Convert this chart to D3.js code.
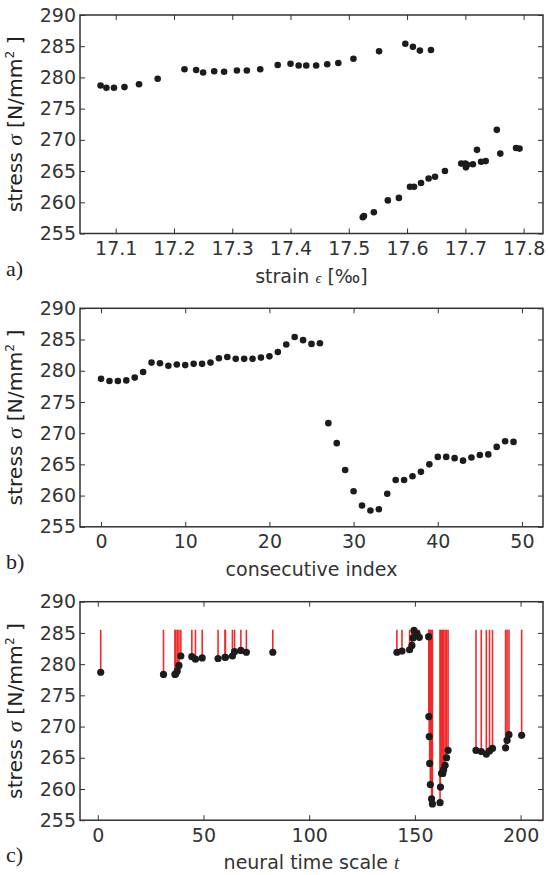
<!DOCTYPE html>
<html>
<head>
<meta charset="utf-8">
<script src="https://cdn.jsdelivr.net/npm/d3@7"></script>
<style>
body { margin: 0; background: #fff; }
svg { display: block; }
.tick text { font-family: "DejaVu Sans", sans-serif; fill: #333; }
.tick line { stroke: #333; }
</style>
</head>
<body>
<script>
// stress values, in measurement order (index 0..49)
var stress = [278.7, 278.35, 278.35, 278.45, 278.9, 279.8, 281.3, 281.2, 280.8, 281.0,
  280.9, 281.1, 281.1, 281.3, 282.0, 282.2, 281.9, 281.9, 281.9, 282.1,
  282.3, 283.0, 284.2, 285.4, 284.9, 284.3, 284.4, 271.6, 268.4, 264.1,
  260.7, 258.4, 257.6, 257.8, 260.3, 262.5, 262.5, 263.1, 263.8, 265.0,
  266.2, 266.2, 266.0, 265.6, 266.1, 266.5, 266.6, 267.8, 268.7, 268.6];

// strain for each measurement [permille]
var strain = [17.074, 17.084, 17.097, 17.115, 17.140, 17.172, 17.218, 17.238, 17.250, 17.269,
  17.286, 17.308, 17.325, 17.348, 17.378, 17.400, 17.414, 17.427, 17.444, 17.463,
  17.482, 17.508, 17.552, 17.597, 17.610, 17.622, 17.641, 17.754, 17.720, 17.648,
  17.586, 17.543, 17.524, 17.526, 17.567, 17.605, 17.612, 17.624, 17.637, 17.665,
  17.693, 17.700, 17.703, 17.701, 17.713, 17.727, 17.735, 17.760, 17.787, 17.793];

// neural time scale t for each measurement
var neuralTime = [1.4, 31.1, 36.5, 36.9, 37.6, 38.4, 39.3, 44.5, 46.2, 49.4,
  56.9, 60.2, 60.4, 63.7, 64.7, 67.7, 70.3, 82.8, 141.5, 143.9,
  147.5, 148.6, 149.1, 149.6, 151.0, 152.1, 156.5, 156.6, 156.8, 157.0,
  157.3, 157.9, 158.3, 161.9, 162.1, 162.6, 163.2, 163.6, 164.3, 165.0,
  165.7, 178.9, 181.4, 183.8, 185.3, 186.7, 192.9, 193.6, 194.5, 200.5];

var spikeTop = 285.5;

var stressTicks = [255, 260, 265, 270, 275, 280, 285, 290];
var strainTicks = [17.1, 17.2, 17.3, 17.4, 17.5, 17.6, 17.7, 17.8];
var indexTicks = [0, 10, 20, 30, 40, 50];
var timeTicks = [0, 50, 100, 150, 200];

var index = d3.range(stress.length);

var width = 548, height = 875;
var left = 80, right = 543, plotH = 218.5;
var fontSize = 19;

var svg = d3.select('body').append('svg')
  .attr('width', width)
  .attr('height', height);

function drawPanel(top, xDomain, xTicks, xFmt, xVals, letter, titleFn, spikes) {
  var bottom = top + plotH;
  var x = d3.scaleLinear().domain(xDomain).range([left, right]);
  var y = d3.scaleLinear().domain([255, 290]).range([bottom, top]);
  var g = svg.append('g');

  g.append('g')
    .attr('transform', 'translate(0,' + bottom + ')')
    .call(d3.axisBottom(x).tickValues(xTicks).tickFormat(xFmt).tickSize(-5).tickPadding(8))
    .call(function(s) { s.select('.domain').remove(); })
    .selectAll('text').style('font-size', fontSize + 'px');
  g.append('g')
    .attr('transform', 'translate(0,' + top + ')')
    .call(d3.axisTop(x).tickValues(xTicks).tickFormat('').tickSize(-5))
    .call(function(s) { s.select('.domain').remove(); });
  g.append('g')
    .attr('transform', 'translate(' + left + ',0)')
    .call(d3.axisLeft(y).tickValues(stressTicks).tickSize(-5).tickPadding(4))
    .call(function(s) { s.select('.domain').remove(); })
    .selectAll('text').style('font-size', fontSize + 'px');
  g.append('g')
    .attr('transform', 'translate(' + right + ',0)')
    .call(d3.axisRight(y).tickValues(stressTicks).tickFormat('').tickSize(-5))
    .call(function(s) { s.select('.domain').remove(); });

  if (spikes) {
    g.selectAll('line.spike')
      .data(index)
      .enter().append('line')
      .attr('class', 'spike')
      .attr('x1', function(i) { return x(xVals[i]); })
      .attr('x2', function(i) { return x(xVals[i]); })
      .attr('y1', y(spikeTop))
      .attr('y2', function(i) { return y(stress[i]); })
      .attr('stroke', '#ee2a2a')
      .attr('stroke-width', 1.6);
  }

  g.selectAll('circle')
    .data(index)
    .enter().append('circle')
    .attr('cx', function(i) { return x(xVals[i]); })
    .attr('cy', function(i) { return y(stress[i]); })
    .attr('r', spikes ? 3.6 : 3.3)
    .attr('fill', '#1c1c1c');

  g.append('rect')
    .attr('x', left).attr('y', top)
    .attr('width', right - left).attr('height', plotH)
    .attr('fill', 'none')
    .attr('stroke', '#333')
    .attr('stroke-width', 1.5);

  var title = g.append('text')
    .attr('x', (left + right) / 2)
    .attr('y', bottom + 49)
    .attr('text-anchor', 'middle')
    .style('font-family', '"DejaVu Sans", sans-serif')
    .style('font-size', fontSize + 'px')
    .style('fill', '#333');
  titleFn(title);

  var ylab = g.append('text')
    .attr('transform', 'translate(22,' + (top + plotH / 2) + ') rotate(-90)')
    .attr('text-anchor', 'middle')
    .attr('textLength', 176)
    .attr('lengthAdjust', 'spacingAndGlyphs')
    .style('font-family', '"DejaVu Sans Condensed", "Liberation Sans Narrow", "Roboto", sans-serif')
    .style('font-stretch', 'condensed')
    .style('font-size', '20px')
    .style('fill', '#222');
  ylab.append('tspan').text('stress ');
  ylab.append('tspan').text('σ').style('font-family', '"Liberation Serif", serif').style('font-style', 'italic');
  ylab.append('tspan').text(' [N/mm');
  ylab.append('tspan').text('2').attr('dy', -8).style('font-size', '12px');
  ylab.append('tspan').text(' ]').attr('dy', 8);

  g.append('text')
    .attr('x', 6)
    .attr('y', bottom + 42)
    .style('font-family', '"Liberation Serif", serif')
    .style('font-size', '22px')
    .style('fill', '#222')
    .text(letter);
}

drawPanel(15, [17.0387, 17.8333], strainTicks, d3.format('.1f'), strain, 'a)', function(t) {
  t.append('tspan').text('strain ');
  t.append('tspan').text('ϵ').style('font-family', '"Liberation Serif", serif').style('font-style', 'italic').style('font-size', '15px');
  t.append('tspan').text(' [‰]');
});

drawPanel(308.3, [-2.5, 52.5], indexTicks, d3.format('d'), index, 'b)', function(t) {
  t.text('consecutive index');
});

drawPanel(601.7, [-8.4, 210.6], timeTicks, d3.format('d'), neuralTime, 'c)', function(t) {
  t.append('tspan').text('neural time scale ');
  t.append('tspan').text('t').style('font-family', '"Liberation Serif", serif').style('font-style', 'italic');
}, true);
</script>
</body>
</html>
